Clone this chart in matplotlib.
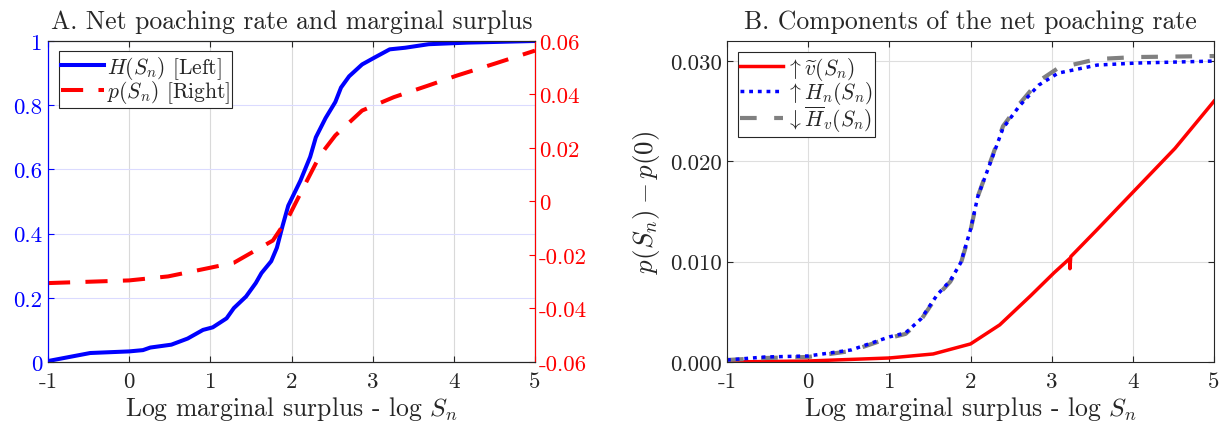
import matplotlib
matplotlib.use("Agg")
import matplotlib.pyplot as plt

plt.rcParams['font.family'] = ['cmr10', 'DejaVu Sans']
plt.rcParams['mathtext.fontset'] = 'cm'
plt.rcParams['axes.unicode_minus'] = False
plt.rcParams['axes.formatter.use_mathtext'] = True

# ---- Panel A data ----
H_x = [-1, -0.48, 0, 0.17, 0.26, 0.52, 0.72, 0.91, 1.03, 1.2, 1.29, 1.44, 1.56, 1.63,
       1.75, 1.82, 1.89, 1.96, 2.11, 2.23, 2.3, 2.42, 2.54, 2.61, 2.71, 2.87, 3.02,
       3.21, 3.4, 3.69, 4.17, 5]
H_y = [0.003, 0.028, 0.033, 0.037, 0.045, 0.054, 0.073, 0.10, 0.108, 0.136, 0.168,
       0.204, 0.246, 0.277, 0.314, 0.356, 0.424, 0.487, 0.565, 0.639, 0.70, 0.76,
       0.81, 0.855, 0.89, 0.927, 0.948, 0.974, 0.979, 0.99, 0.995, 1.0]
p_x = [-1, 0, 0.48, 0.96, 1.29, 1.48, 1.77, 1.96, 2.15, 2.35, 2.54, 2.87, 3.26,
       3.69, 4.03, 4.5, 5]
p_y = [-0.0305, -0.0295, -0.028, -0.025, -0.0229, -0.0196, -0.0146, -0.006, 0.0054,
       0.0172, 0.0247, 0.034, 0.039, 0.0434, 0.047, 0.0515, 0.0564]

# ---- Panel B data ----
v_x = [-1, 0, 1, 1.54, 2, 2.36, 2.74, 3.03, 3.22, 3.225, 3.235, 3.56, 4.01, 4.52, 5]
v_y = [0, 0.0001, 0.0004, 0.0008, 0.0018, 0.0037, 0.0066, 0.0089, 0.0103, 0.0093,
       0.0105, 0.0132, 0.017, 0.0213, 0.026]
Hn_x = [-1, -0.53, 0, 0.53, 1, 1.2, 1.39, 1.59, 1.75, 1.88, 2.0, 2.09, 2.26, 2.4,
        2.6, 2.84, 3.08, 3.56, 4.04, 5]
Hn_y = [0.0002, 0.0005, 0.0006, 0.0012, 0.0025, 0.0029, 0.0043, 0.0067, 0.0081,
        0.0099, 0.0132, 0.0165, 0.0202, 0.0233, 0.0255, 0.0276, 0.0288, 0.0296,
        0.0298, 0.0300]
Hv_y = [0.0002, 0.0004, 0.0005, 0.0011, 0.0024, 0.0028, 0.0042, 0.0066, 0.0080,
        0.0098, 0.0131, 0.0165, 0.0203, 0.0235, 0.0257, 0.0280, 0.0293, 0.0302,
        0.0304, 0.0305]

x_ticks = [-1, 0, 1, 2, 3, 4, 5]
x_ticklabels = ['-1', '0', '1', '2', '3', '4', '5']
left_ticks = [0, 0.2, 0.4, 0.6, 0.8, 1]
left_ticklabels = ['0', '0.2', '0.4', '0.6', '0.8', '1']
right_ticks = [-0.06, -0.04, -0.02, 0, 0.02, 0.04, 0.06]
right_ticklabels = ['-0.06', '-0.04', '-0.02', '0', '0.02', '0.04', '0.06']
b_ticks = [0, 0.01, 0.02, 0.03]
b_ticklabels = ['0.000', '0.010', '0.020', '0.030']

TXT = (0.15, 0.15, 0.15)
BLUE = (0, 0, 1)
RED = (1, 0, 0)
GRAY = (0.5, 0.5, 0.5)
FS_TICK = 16.5
FS_LAB = 18.5
FS_TITLE = 18.5
FS_LEG = 15.5

fig = plt.figure(figsize=(12.21, 4.27), dpi=100)

# ================= Panel A =================
ax = fig.add_axes([48/1221, 1-363/427, 487/1221, 321/427])
ax2 = ax.twinx()
ax.set_xlim(-1, 5)
ax.set_ylim(0, 1)
ax2.set_ylim(-0.06, 0.06)
ax.set_xticks(x_ticks)
ax.set_xticklabels(x_ticklabels, fontsize=FS_TICK, color=TXT)
ax.set_yticks(left_ticks)
ax.set_yticklabels(left_ticklabels, fontsize=FS_TICK, color=BLUE)
ax2.set_yticks(right_ticks)
ax2.set_yticklabels(right_ticklabels, fontsize=FS_TICK, color=RED)

ax.xaxis.grid(True, color=(0.85, 0.85, 0.85), lw=0.8)
ax.yaxis.grid(True, color=(0.86, 0.86, 1.0), lw=0.8)
ax.set_axisbelow(True)
ax.tick_params(axis='x', direction='in', length=4, color=TXT, top=True, pad=7)
ax.tick_params(axis='y', direction='in', length=4, color=BLUE, pad=4)
ax2.tick_params(axis='y', direction='in', length=4, color=RED, pad=3)
for s in ['top', 'bottom']:
    ax.spines[s].set_color(TXT)
    ax2.spines[s].set_color(TXT)
ax2.spines['left'].set_color(BLUE)
ax.spines['left'].set_color(BLUE)
ax2.spines['right'].set_color(RED)
for s in ax2.spines.values():
    s.set_linewidth(0.8)
for s in ax.spines.values():
    s.set_linewidth(0.8)

l1, = ax.plot(H_x, H_y, color=BLUE, lw=2.9, solid_joinstyle='round',
              label=r'$H(S_n)$ [Left]')
l2, = ax2.plot(p_x, p_y, color=RED, lw=2.9, linestyle=(0, (5.5, 3.8)),
               label=r'$p(S_n)$ [Right]')
ax.set_title('A. Net poaching rate and marginal surplus', fontsize=FS_TITLE,
             color=TXT, pad=9)
ax.set_xlabel(r'Log marginal surplus - log $S_n$', fontsize=FS_LAB, color=TXT,
              labelpad=2)
leg = ax2.legend(handles=[l1, l2], loc='upper left', bbox_to_anchor=(0.022, 0.968),
                 fontsize=FS_LEG, frameon=True, fancybox=False, edgecolor=TXT,
                 framealpha=1, handlelength=2.0, handletextpad=0.1,
                 borderpad=0.12, labelspacing=-0.12, borderaxespad=0)
leg.get_frame().set_linewidth(0.8)
for t in leg.get_texts():
    t.set_color(TXT)

# ================= Panel B =================
bx = fig.add_axes([727/1221, 1-363/427, 487/1221, 321/427])
bx.set_xlim(-1, 5)
bx.set_ylim(0, 0.0320)
bx.set_xticks(x_ticks)
bx.set_xticklabels(x_ticklabels, fontsize=FS_TICK, color=TXT)
bx.set_yticks(b_ticks)
bx.set_yticklabels(b_ticklabels, fontsize=FS_TICK, color=TXT)
bx.grid(True, color=(0.87, 0.87, 0.87), lw=0.8)
bx.set_axisbelow(True)
bx.tick_params(axis='both', direction='in', length=4, color=TXT, top=True,
               right=True)
bx.tick_params(axis='x', pad=7)
for s in bx.spines.values():
    s.set_color(TXT)
    s.set_linewidth(0.8)

m1, = bx.plot(v_x, v_y, color=RED, lw=2.5, label=r'$\uparrow\widetilde{v}(S_n)$')
m3, = bx.plot(Hn_x, Hv_y, color=GRAY, lw=3.0, linestyle=(0, (4.0, 4.2)),
              label=r'$\downarrow\overline{H}_v(S_n)$')
m2, = bx.plot(Hn_x, Hn_y, color=BLUE, lw=2.5, linestyle=(0, (1.1, 1.4)),
              label=r'$\uparrow H_n(S_n)$')
bx.set_title('B. Components of the net poaching rate', fontsize=FS_TITLE,
             color=TXT, pad=9)
bx.set_xlabel(r'Log marginal surplus - log $S_n$', fontsize=FS_LAB, color=TXT,
              labelpad=2)
bx.set_ylabel(r'$p(S_n) - p(0)$', fontsize=FS_LAB + 1, color=TXT, labelpad=6)
leg2 = bx.legend(handles=[m1, m2, m3], loc='upper left',
                 bbox_to_anchor=(0.022, 0.965), fontsize=FS_LEG, frameon=True,
                 fancybox=False, edgecolor=TXT, framealpha=1, handlelength=2.0,
                 handletextpad=0.1, borderpad=0.12, labelspacing=-0.12,
                 borderaxespad=0)
leg2.get_frame().set_linewidth(0.8)
for t in leg2.get_texts():
    t.set_color(TXT)

fig.savefig('out.png', dpi=100)
